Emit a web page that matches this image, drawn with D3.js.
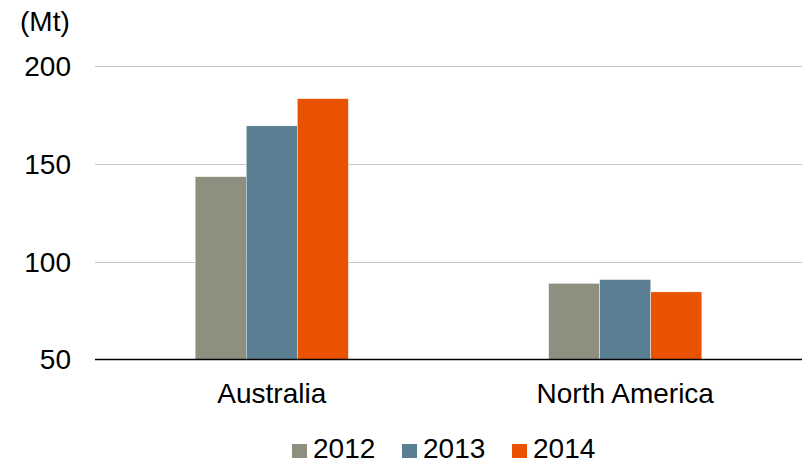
<!DOCTYPE html>
<html>
<head>
<meta charset="utf-8">
<script src="https://cdn.jsdelivr.net/npm/d3@7"></script>
<style>
  body { margin: 0; background: #fff; }
  text { font-family: "Liberation Sans", Arial, sans-serif; fill: #000; }
</style>
</head>
<body>
<svg class="chart"></svg>
<script>
var regions = ["Australia", "North America"];
var years = ["2012", "2013", "2014"];
var v2012 = [143.5, 88.9];
var v2013 = [169.5, 90.8];
var v2014 = [183.4, 84.5];
var yTicks = [50, 100, 150, 200];
var colors = ["#8f8f7f", "#5b7f92", "#e85200"];

var width = 806;
var height = 463;
var svg = d3.select(".chart").attr("width", width).attr("height", height);

var series = [v2012, v2013, v2014];

var x0 = d3.scaleBand()
    .domain(regions)
    .range([95, 802])
    .paddingInner(0.5666)
    .paddingOuter(0.2833);

var x1 = d3.scaleBand()
    .domain(years)
    .range([0, x0.bandwidth()]);

var y = d3.scaleLinear()
    .domain([50, 200])
    .range([359.3, 66.3]);

// gridlines
svg.append("g")
  .selectAll("line")
  .data(yTicks.filter(function(d){ return d > 50; }))
  .join("line")
    .attr("x1", 95)
    .attr("x2", 802)
    .attr("y1", function(d){ return Math.round(y(d)) + 0.5; })
    .attr("y2", function(d){ return Math.round(y(d)) + 0.5; })
    .attr("stroke", "#c6c6bd")
    .attr("stroke-width", 1);

// y labels
svg.append("g")
  .selectAll("text")
  .data(yTicks)
  .join("text")
    .attr("x", 71)
    .attr("y", function(d){ return y(d); })
    .attr("dy", "0.36em")
    .attr("text-anchor", "end")
    .style("font-size", "28px")
    .text(function(d){ return d; });

svg.append("text")
    .attr("x", 20)
    .attr("y", 31)
    .style("font-size", "28px")
    .text("(Mt)");

// bars
var groups = svg.append("g")
  .selectAll("g")
  .data(regions)
  .join("g")
    .attr("transform", function(d){ return "translate(" + x0(d) + ",0)"; });

groups.selectAll("rect")
  .data(function(d, i){
    return years.map(function(yr, j){ return {year: yr, value: series[j][i], k: j}; });
  })
  .join("rect")
    .attr("x", function(d){ return x1(d.year); })
    .attr("y", function(d){ return y(d.value); })
    .attr("width", x1.bandwidth())
    .attr("height", function(d){ return y(50) - y(d.value); })
    .attr("fill", function(d){ return colors[d.k]; })
    .attr("stroke", "#fff")
    .attr("stroke-width", 0.4);

// baseline
svg.append("line")
    .attr("x1", 95)
    .attr("x2", 802)
    .attr("y1", 359.5)
    .attr("y2", 359.5)
    .attr("stroke", "#000")
    .attr("stroke-width", 1.5);

// category labels
svg.append("g")
  .selectAll("text")
  .data(regions)
  .join("text")
    .attr("x", function(d){ return x0(d) + x0.bandwidth() / 2; })
    .attr("y", 403)
    .attr("text-anchor", "middle")
    .style("font-size", "28px")
    .text(function(d){ return d; });

// legend
var legend = svg.append("g")
  .selectAll("g")
  .data(years)
  .join("g")
    .attr("transform", function(d, i){ return "translate(" + (292 + i * 110) + ",444)"; });

legend.append("rect")
    .attr("width", 15)
    .attr("height", 14)
    .attr("fill", function(d, i){ return colors[i]; });

legend.append("text")
    .attr("x", 21)
    .attr("y", 14.3)
    .style("font-size", "28px")
    .text(function(d){ return d; });
</script>
</body>
</html>
